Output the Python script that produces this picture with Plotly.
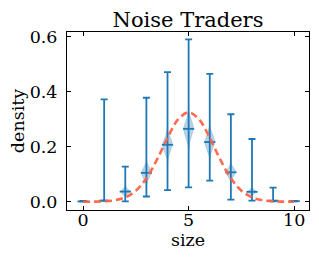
import numpy as np
import plotly.graph_objects as go

# ---- data ----
positions = [0, 1, 2, 3, 4, 5, 6, 7, 8, 9, 10]
vmin = [0.001, 0.004, 0.001, 0.019, 0.042, 0.052, 0.077, 0.008, 0.004, 0.001, 0.001]
vmax = [0.003, 0.372, 0.128, 0.378, 0.471, 0.590, 0.465, 0.318, 0.228, 0.051, 0.003]
vmean = [0.001, 0.004, 0.037, 0.105, 0.207, 0.265, 0.217, 0.107, 0.036, 0.004, 0.002]
vspread = [0.0008, 0.0015, 0.008, 0.018, 0.024, 0.028, 0.025, 0.014, 0.006, 0.0015, 0.0008]

curve_x = [0, 0.5, 1, 1.5, 2, 2.5, 3, 3.5, 4, 4.5, 5, 5.5, 6, 6.5, 7, 7.5, 8, 8.5, 9, 9.5, 10]
curve_y = [0.0000, 0.0004, 0.0015, 0.0053, 0.016, 0.040, 0.085, 0.153, 0.232, 0.299, 0.325,
           0.299, 0.232, 0.153, 0.085, 0.040, 0.016, 0.0053, 0.0015, 0.0004, 0.0000]

BLUE = "#1f77b4"
VIOLIN_FILL = "rgba(31,119,180,0.32)"
RED = "rgba(255,99,71,0.95)"
FONT = "DejaVu Serif"
HALF_W = 0.24

fig = go.Figure()

# violin bodies (gaussian profile around each mean)
for p, m, s in zip(positions, vmean, vspread):
    ys = np.linspace(m - 3 * s, m + 3 * s, 41)
    w = HALF_W * np.exp(-0.5 * ((ys - m) / s) ** 2)
    xs = np.concatenate([p + w, (p - w)[::-1]])
    yy = np.concatenate([ys, ys[::-1]])
    fig.add_trace(go.Scatter(x=xs, y=yy, mode="lines", fill="toself",
                             fillcolor=VIOLIN_FILL, line=dict(width=0.6, color=VIOLIN_FILL),
                             hoverinfo="skip", showlegend=False))

# extrema bars
mid = [(a + b) / 2 for a, b in zip(vmin, vmax)]
half = [(b - a) / 2 for a, b in zip(vmin, vmax)]
fig.add_trace(go.Scatter(x=positions, y=mid, mode="markers",
                         marker=dict(size=1, color="rgba(0,0,0,0)"),
                         error_y=dict(type="data", array=half, symmetric=True,
                                      color=BLUE, thickness=1.8, width=3.5),
                         showlegend=False))
# mean ticks
fig.add_trace(go.Scatter(x=positions, y=vmean, mode="markers",
                         marker=dict(symbol="line-ew", size=8,
                                     line=dict(color=BLUE, width=1.8)),
                         showlegend=False))

# theoretical curve
fig.add_trace(go.Scatter(x=curve_x, y=curve_y, mode="lines", line_shape="spline",
                         line=dict(color=RED, width=2.6, dash="7px,4px"),
                         showlegend=False))

axis_common = dict(showline=True, linecolor="black", linewidth=1, mirror="allticks",
                   ticks="inside", ticklen=4, tickwidth=1, tickcolor="black",
                   showgrid=False, zeroline=False, automargin=False,
                   tickfont=dict(family=FONT, size=17.5, color="black"))

# page body adds an 8px offset, so the figure is sized to fit the window
fig.update_layout(
    width=311, height=250,
    margin=dict(l=59, r=10, t=24, b=48),
    paper_bgcolor="white", plot_bgcolor="white",
    title=dict(text="Noise Traders", x=0.5, xanchor="center", xref="paper",
               y=0.952, yanchor="middle",
               font=dict(family=FONT, size=21, color="black")),
    xaxis=dict(range=[-0.76, 10.7], tickvals=[0, 5, 10], ticklabelstandoff=-6,
               title=dict(text="size", font=dict(family=FONT, size=17.5, color="black"), standoff=4),
               **axis_common),
    yaxis=dict(range=[-0.030, 0.617], tickvals=[0, 0.2, 0.4, 0.6], tickformat=".1f",
               ticklabelstandoff=5,
               title=dict(text="density", font=dict(family=FONT, size=17.5, color="black"), standoff=1),
               **axis_common),
    showlegend=False,
)

fig.write_html("out.html")
